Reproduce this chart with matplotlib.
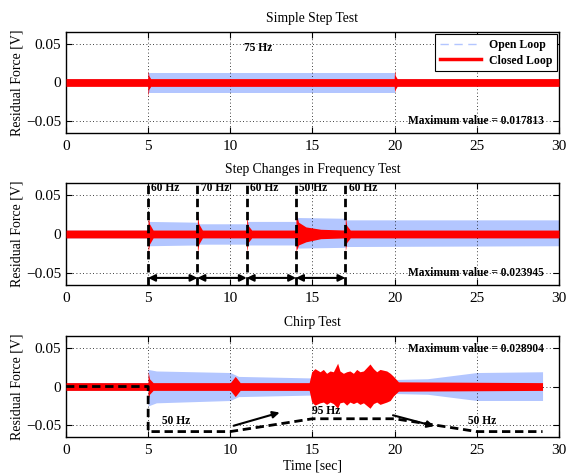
import matplotlib
matplotlib.use('Agg')
import matplotlib.pyplot as plt
from matplotlib.lines import Line2D

plt.rcParams['font.family'] = ['Liberation Serif', 'DejaVu Serif']
plt.rcParams['axes.unicode_minus'] = True

OPEN_C = '#b3c6ff'
CLOSED_C = '#ff0000'

# ---- panel 1: simple step test (envelopes) ----
open1_t = [0, 5, 5, 20, 20, 30]
open1_hi = [0.005, 0.005, 0.0125, 0.0125, 0.005, 0.005]
open1_lo = [-0.005, -0.005, -0.0135, -0.0135, -0.005, -0.005]
closed1_t = [0, 4.97, 5.0, 5.04, 5.15, 19.97, 20.0, 20.04, 20.15, 30]
closed1_hi = [0.005, 0.005, 0.015, 0.009, 0.005, 0.005, 0.016, 0.009, 0.005, 0.005]
closed1_lo = [-0.005, -0.005, -0.018, -0.009, -0.005, -0.005, -0.012, -0.009, -0.005, -0.005]

# ---- panel 2: step changes in frequency ----
open2_t = [0, 5, 5, 8, 8, 11, 11, 14, 14, 17, 17, 30]
open2_hi = [0.005, 0.005, 0.016, 0.015, 0.013, 0.013, 0.016, 0.016, 0.021, 0.02, 0.018, 0.018]
open2_lo = [-0.005, -0.005, -0.015, -0.014, -0.013, -0.013, -0.014, -0.014, -0.018, -0.017, -0.016, -0.015]
closed2_t = [0, 4.99, 5.0, 5.08, 5.3, 7.99, 8.0, 8.08, 8.3, 10.99, 11.0, 11.08, 11.3,
             13.99, 14.0, 14.15, 14.6, 15.5, 16.99, 17.0, 17.08, 17.3, 30]
closed2_hi = [0.005, 0.005, 0.025, 0.013, 0.005, 0.005, 0.025, 0.013, 0.005, 0.005, 0.023, 0.011, 0.005,
              0.005, 0.027, 0.015, 0.009, 0.006, 0.005, 0.024, 0.011, 0.005, 0.005]
closed2_lo = [-0.005, -0.005, -0.024, -0.013, -0.005, -0.005, -0.025, -0.013, -0.005, -0.005, -0.023, -0.011, -0.005,
              -0.005, -0.022, -0.014, -0.010, -0.006, -0.005, -0.022, -0.011, -0.005, -0.005]
step_times = [5, 8, 11, 14, 17]
step_labels = ['60 Hz', '70 Hz', '60 Hz', '50 Hz', '60 Hz']

# ---- panel 3: chirp test ----
open3_t = [0, 5, 5, 5.5, 10, 10.5, 15, 20, 22, 25, 29]
open3_hi = [0.005, 0.005, 0.022, 0.02, 0.018, 0.013, 0.011, 0.009, 0.010, 0.018, 0.019]
open3_lo = [-0.005, -0.005, -0.025, -0.021, -0.018, -0.013, -0.011, -0.009, -0.010, -0.018, -0.018]
closed3_t = [0, 4.99, 5.0, 5.08, 5.3, 10.0, 10.3, 10.6,
             14.8, 14.95, 15.15, 15.46, 15.66, 15.86, 16.07, 16.27, 16.53, 16.67, 16.88, 17.08, 17.28,
             17.49, 17.69, 17.89, 18.10, 18.50, 18.71, 18.91, 19.11, 19.52, 19.73, 19.93, 20.23, 29]
closed3_hi = [0.005, 0.005, 0.019, 0.010, 0.005, 0.005, 0.013, 0.005,
              0.005, 0.019, 0.023, 0.019, 0.022, 0.017, 0.020, 0.019, 0.030, 0.020, 0.017, 0.019, 0.020,
              0.017, 0.022, 0.019, 0.020, 0.029, 0.023, 0.019, 0.022, 0.020, 0.017, 0.013, 0.006, 0.005]
closed3_lo = [-0.005, -0.005, -0.017, -0.010, -0.005, -0.005, -0.013, -0.005,
              -0.005, -0.020, -0.024, -0.021, -0.020, -0.023, -0.020, -0.022, -0.028, -0.021, -0.020, -0.024,
              -0.020, -0.022, -0.020, -0.023, -0.021, -0.028, -0.022, -0.020, -0.023, -0.020, -0.018, -0.012,
              -0.006, -0.005]
chirp_t = [0, 5, 5, 10, 15, 20, 25, 29]
chirp_y = [0, 0, -0.058, -0.058, -0.0415, -0.0415, -0.058, -0.058]

titles = ['Simple Step Test', 'Step Changes in Frequency Test', 'Chirp Test']
max_values = ['0.017813', '0.023945', '0.028904']

fig = plt.figure(figsize=(5.66, 4.76), dpi=100)
rects = [[0.1166, 0.7206, 0.871, 0.2122],
         [0.1166, 0.4013, 0.871, 0.2143],
         [0.1166, 0.0819, 0.871, 0.2122]]
axes = [fig.add_axes(r) for r in rects]

data = [(open1_t, open1_hi, open1_lo, closed1_t, closed1_hi, closed1_lo),
        (open2_t, open2_hi, open2_lo, closed2_t, closed2_hi, closed2_lo),
        (open3_t, open3_hi, open3_lo, closed3_t, closed3_hi, closed3_lo)]

bold = dict(fontweight='bold', fontsize=8.3)
dash = (0, (3, 1.7))

for i, ax in enumerate(axes):
    ot, ohi, olo, ct, chi, clo = data[i]
    ax.fill_between(ot, olo, ohi, color=OPEN_C, lw=0, zorder=2)
    ax.fill_between(ct, clo, chi, color=CLOSED_C, lw=0, zorder=3)
    ax.set_xlim(0, 30)
    ax.set_ylim(-0.065, 0.065)
    ax.set_xticks([0, 5, 10, 15, 20, 25, 30])
    ax.set_yticks([-0.05, 0, 0.05])
    ax.set_yticklabels(['\u22120.05', '0', '0.05'])
    ax.tick_params(direction='in', top=True, right=True, labelsize=11, length=4, width=0.8)
    ax.tick_params(axis='x', pad=5)
    ax.grid(True, linestyle=(0, (1, 3)), color='black', linewidth=0.6)
    ax.set_axisbelow(False)
    for s in ax.spines.values():
        s.set_linewidth(1.0)
    ax.set_title(titles[i], fontsize=9.8, pad=7)
    ax.set_ylabel('Residual Force [V]', fontsize=10, labelpad=2)

# panel 1 annotations
ax = axes[0]
ax.text(11.7, 0.045, '75 Hz', ha='center', va='center', **bold)
ax.text(29.1, -0.05, 'Maximum value = ' + max_values[0], ha='right', va='center', **bold)
handles = [Line2D([], [], color=OPEN_C, lw=1.0, ls=(0, (6, 4))),
           Line2D([], [], color=CLOSED_C, lw=2.5)]
leg = ax.legend(handles, ['Open Loop', 'Closed Loop'], loc='upper right', fancybox=False,
                framealpha=1, edgecolor='black', prop=dict(weight='bold', size=8.5),
                borderaxespad=0.2, handlelength=3.5, labelspacing=0.3, borderpad=0.4,
                handletextpad=0.6)
leg.get_frame().set_linewidth(0.8)

# panel 2 annotations
ax = axes[1]
for t, lab in zip(step_times, step_labels):
    ax.axvline(t, color='black', ls=dash, lw=2.0, zorder=4)
    ax.text(t + 0.2, 0.058, lab, ha='left', va='center', zorder=5, **bold)
for a, b in zip(step_times[:-1], step_times[1:]):
    ax.annotate('', xy=(b, -0.056), xytext=(a, -0.056),
                arrowprops=dict(arrowstyle='<|-|>', color='black', lw=1.5,
                                shrinkA=0, shrinkB=0, mutation_scale=10), zorder=5)
ax.text(29.1, -0.05, 'Maximum value = ' + max_values[1], ha='right', va='center', **bold)

# panel 3 annotations
ax = axes[2]
ax.plot(chirp_t, chirp_y, color='black', ls=dash, lw=2.0, zorder=4)
ax.annotate('', xy=(13.0, -0.0335), xytext=(10.2, -0.0505),
            arrowprops=dict(arrowstyle='-|>', color='black', lw=1.5, shrinkA=0, shrinkB=0,
                            mutation_scale=10), zorder=5)
ax.annotate('', xy=(22.4, -0.051), xytext=(19.9, -0.037),
            arrowprops=dict(arrowstyle='-|>', color='black', lw=1.5, shrinkA=0, shrinkB=0,
                            mutation_scale=10), zorder=5)
ax.text(6.7, -0.044, '50 Hz', ha='center', va='center', **bold)
ax.text(15.85, -0.032, '95 Hz', ha='center', va='center', **bold)
ax.text(25.3, -0.044, '50 Hz', ha='center', va='center', **bold)
ax.text(29.1, 0.048, 'Maximum value = ' + max_values[2], ha='right', va='center', **bold)
ax.set_xlabel('Time [sec]', fontsize=10, labelpad=2)

fig.savefig('out.png', dpi=100)
